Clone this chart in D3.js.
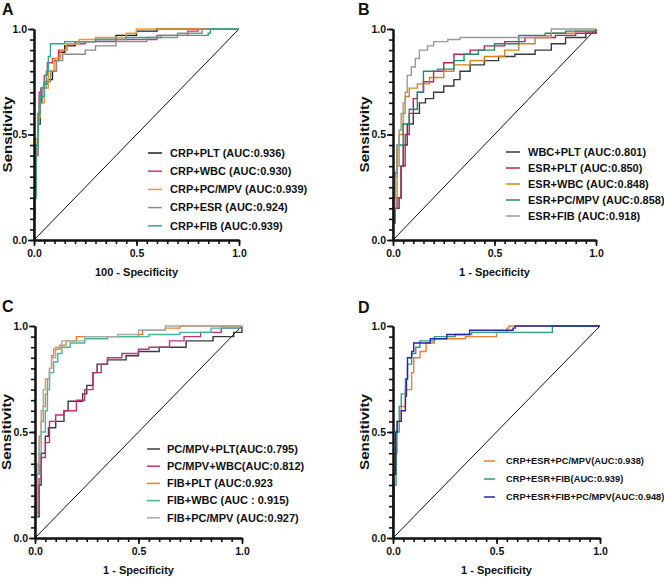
<!DOCTYPE html>
<html>
<head>
<meta charset="utf-8">
<script src="https://cdn.jsdelivr.net/npm/d3@7"></script>
<style>
  body { margin: 0; background: #fff; }
  svg text { font-family: Arial, "Liberation Sans", sans-serif; font-weight: bold; fill: #111; }
</style>
</head>
<body>
<div class="chart"></div>
<script>
// axis ticks
var majorTicks = [0, 0.5, 1];
var minorTicks = d3.range(0, 1.0001, 0.05);

// Panel A series (fpr, tpr)
var aLabels = ["CRP+PLT (AUC:0.936)", "CRP+WBC (AUC:0.930)", "CRP+PC/MPV (AUC:0.939)", "CRP+ESR (AUC:0.924)", "CRP+FIB (AUC:0.939)"];
var aCrpPlt = [[0,0],[0,0.12],[0.005,0.3],[0.01,0.45],[0.02,0.55],[0.03,0.65],[0.035,0.72],[0.05,0.74],[0.07,0.76],[0.09,0.8],[0.1,0.85],[0.12,0.89],[0.15,0.92],[0.2,0.94],[0.3,0.95],[0.4,0.97],[0.5,0.99],[0.6,1],[1,1]];
var aCrpWbc = [[0,0],[0,0.1],[0.005,0.25],[0.01,0.4],[0.02,0.6],[0.025,0.7],[0.035,0.72],[0.05,0.78],[0.065,0.84],[0.09,0.86],[0.12,0.9],[0.16,0.93],[0.25,0.94],[0.4,0.95],[0.6,0.97],[0.75,0.99],[0.8,1],[1,1]];
var aCrpPcMpv = [[0,0],[0,0.15],[0.005,0.3],[0.01,0.48],[0.02,0.58],[0.03,0.65],[0.05,0.72],[0.07,0.8],[0.1,0.86],[0.13,0.9],[0.16,0.93],[0.22,0.95],[0.3,0.96],[0.45,0.98],[0.5,1],[1,1]];
var aCrpEsr = [[0,0],[0,0.2],[0.01,0.4],[0.02,0.55],[0.025,0.65],[0.04,0.72],[0.06,0.75],[0.08,0.8],[0.11,0.85],[0.14,0.88],[0.25,0.9],[0.3,0.92],[0.4,0.94],[0.55,0.96],[0.7,0.98],[0.82,1],[1,1]];
var aCrpFib = [[0,0],[0,0.2],[0.01,0.45],[0.02,0.6],[0.03,0.68],[0.05,0.75],[0.06,0.8],[0.07,0.87],[0.08,0.93],[0.15,0.94],[0.3,0.95],[0.45,0.96],[0.62,0.97],[0.85,0.98],[0.86,1],[1,1]];

// Panel B
var bLabels = ["WBC+PLT (AUC:0.801)", "ESR+PLT (AUC:0.850)", "ESR+WBC (AUC:0.848)", "ESR+PC/MPV (AUC:0.858)", "ESR+FIB (AUC:0.918)"];
var bWbcPlt = [[0,0],[0,0.08],[0.01,0.15],[0.03,0.2],[0.04,0.35],[0.05,0.45],[0.07,0.55],[0.1,0.6],[0.13,0.65],[0.16,0.67],[0.2,0.7],[0.25,0.73],[0.3,0.76],[0.33,0.8],[0.38,0.83],[0.45,0.85],[0.52,0.87],[0.6,0.88],[0.7,0.9],[0.78,0.93],[0.85,0.96],[0.95,0.98],[1,1]];
var bEsrPlt = [[0,0],[0,0.15],[0.02,0.2],[0.04,0.35],[0.06,0.5],[0.08,0.6],[0.1,0.67],[0.12,0.7],[0.15,0.75],[0.2,0.8],[0.25,0.84],[0.3,0.88],[0.38,0.9],[0.45,0.92],[0.55,0.94],[0.65,0.96],[0.8,0.97],[0.9,0.98],[1,1]];
var bEsrWbc = [[0,0],[0,0.2],[0.02,0.35],[0.03,0.5],[0.05,0.6],[0.06,0.68],[0.08,0.72],[0.12,0.74],[0.18,0.77],[0.25,0.8],[0.3,0.83],[0.38,0.85],[0.45,0.87],[0.55,0.9],[0.62,0.93],[0.7,0.96],[0.78,0.98],[0.9,0.99],[1,1]];
var bEsrPcMpv = [[0,0],[0,0.2],[0.01,0.32],[0.02,0.45],[0.05,0.55],[0.08,0.62],[0.12,0.7],[0.15,0.8],[0.22,0.81],[0.3,0.85],[0.35,0.88],[0.42,0.9],[0.5,0.93],[0.62,0.97],[0.75,0.98],[0.85,0.99],[1,1]];
var bEsrFib = [[0,0],[0,0.15],[0.01,0.3],[0.02,0.45],[0.03,0.52],[0.04,0.6],[0.05,0.65],[0.06,0.7],[0.07,0.78],[0.09,0.82],[0.11,0.86],[0.13,0.9],[0.17,0.92],[0.2,0.94],[0.27,0.95],[0.33,0.96],[0.76,0.97],[0.78,1],[1,1]];

// Panel C
var cLabels = ["PC/MPV+PLT(AUC:0.795)", "PC/MPV+WBC(AUC:0.812)", "FIB+PLT (AUC:0.923", "FIB+WBC (AUC : 0.915)", "FIB+PC/MPV (AUC:0.927)"];
var cPcMpvPlt = [[0,0],[0,0.1],[0.02,0.25],[0.03,0.4],[0.05,0.48],[0.065,0.52],[0.1,0.55],[0.14,0.6],[0.16,0.645],[0.23,0.68],[0.25,0.72],[0.28,0.78],[0.3,0.82],[0.35,0.84],[0.44,0.86],[0.5,0.88],[0.6,0.9],[0.73,0.93],[0.86,0.95],[0.96,0.97],[1,1]];
var cPcMpvWbc = [[0,0],[0,0.12],[0.02,0.28],[0.03,0.38],[0.05,0.45],[0.07,0.55],[0.1,0.58],[0.14,0.6],[0.2,0.65],[0.24,0.7],[0.28,0.78],[0.32,0.82],[0.35,0.85],[0.42,0.87],[0.5,0.89],[0.55,0.9],[0.65,0.93],[0.72,0.95],[0.8,0.97],[0.9,0.99],[1,1]];
var cFibPlt = [[0,0],[0,0.15],[0.01,0.3],[0.02,0.48],[0.03,0.55],[0.04,0.62],[0.05,0.68],[0.06,0.75],[0.07,0.8],[0.08,0.86],[0.09,0.89],[0.12,0.91],[0.15,0.93],[0.2,0.95],[0.5,0.96],[0.52,0.98],[0.63,0.99],[0.7,1],[1,1]];
var cFibWbc = [[0,0],[0,0.1],[0.01,0.3],[0.02,0.4],[0.03,0.5],[0.05,0.6],[0.06,0.7],[0.07,0.78],[0.09,0.83],[0.11,0.87],[0.13,0.9],[0.17,0.92],[0.24,0.94],[0.35,0.95],[0.55,0.96],[0.7,0.97],[0.85,0.99],[1,1]];
var cFibPcMpv = [[0,0],[0,0.15],[0.01,0.35],[0.02,0.45],[0.03,0.6],[0.04,0.7],[0.05,0.75],[0.07,0.8],[0.08,0.85],[0.1,0.9],[0.13,0.93],[0.24,0.95],[0.4,0.96],[0.5,0.98],[0.63,1],[1,1]];

// Panel D
var dLabels = ["CRP+ESR+PC/MPV(AUC:0.938)", "CRP+ESR+FIB(AUC:0.939)", "CRP+ESR+FIB+PC/MPV(AUC:0.948)"];
var dCrpEsrPcMpv = [[0,0],[0,0.2],[0.005,0.4],[0.02,0.55],[0.04,0.62],[0.06,0.7],[0.09,0.78],[0.1,0.85],[0.13,0.88],[0.16,0.92],[0.2,0.94],[0.35,0.95],[0.5,0.97],[0.55,0.99],[0.56,1],[1,1]];
var dCrpEsrFib = [[0,0],[0,0.1],[0.005,0.25],[0.015,0.5],[0.03,0.62],[0.04,0.68],[0.06,0.75],[0.07,0.82],[0.09,0.87],[0.11,0.9],[0.13,0.93],[0.2,0.95],[0.3,0.96],[0.38,0.97],[0.76,0.97],[0.77,1],[1,1]];
var dCrpEsrFibPcMpv = [[0,0],[0,0.3],[0.013,0.5],[0.02,0.55],[0.04,0.6],[0.06,0.67],[0.065,0.75],[0.07,0.85],[0.09,0.88],[0.1,0.92],[0.18,0.94],[0.26,0.96],[0.37,0.98],[0.58,0.99],[0.59,1],[1,1]];

function init(){

  var w = 664;
  var h = 577;

  var svg = d3.select("div.chart")
              .append("svg")
              .attr("width", w)
              .attr("height", h);

  // layout of the four panels (plot box, legend spot, titles)
  var panels = [
    { letter: "A", lx: 2, ly: 15, left: 34, right: 239, top: 29, bottom: 240,
      xTitle: "100 - Specificity", xTitleY: 276, yTitleX: 2,
      legX: 148, legY: 153, legStep: 18.2, legLine: 14, legFont: 11, textGap: 8,
      labels: aLabels, series: [aCrpPlt, aCrpWbc, aCrpPcMpv, aCrpEsr, aCrpFib],
      colors: ["#1e1e1e", "#d4337f", "#f5962a", "#8c8c8c", "#2bab84"] },
    { letter: "B", lx: 358, ly: 15, left: 393, right: 596, top: 29, bottom: 240,
      xTitle: "1 - Specificity", xTitleY: 276, yTitleX: 359,
      legX: 506, legY: 152, legStep: 16, legLine: 14, legFont: 11, textGap: 8,
      labels: bLabels, series: [bWbcPlt, bEsrPlt, bEsrWbc, bEsrPcMpv, bEsrFib],
      colors: ["#3a3a3a", "#c01d5a", "#d2841a", "#1f8c6a", "#9a9a9a"] },
    { letter: "C", lx: 2, ly: 312, left: 35, right: 242, top: 326, bottom: 538,
      xTitle: "1 - Specificity", xTitleY: 574, yTitleX: 1,
      legX: 147, legY: 449, legStep: 17.2, legLine: 13, legFont: 11, textGap: 7,
      labels: cLabels, series: [cPcMpvPlt, cPcMpvWbc, cFibPlt, cFibWbc, cFibPcMpv],
      colors: ["#3a3a3a", "#c4307a", "#f07f22", "#45b59a", "#a8a8a8"] },
    { letter: "D", lx: 358, ly: 313, left: 393, right: 600, top: 326, bottom: 538,
      xTitle: "1 - Specificity", xTitleY: 574, yTitleX: 359,
      legX: 484, legY: 461, legStep: 18, legLine: 11, legFont: 9.3, textGap: 11,
      labels: dLabels, series: [dCrpEsrPcMpv, dCrpEsrFib, dCrpEsrFibPcMpv],
      colors: ["#f07e2f", "#2e9e80", "#2424b0"] }
  ];

  panels.forEach(function(p){

    var xScale = d3.scaleLinear().domain([0, 1]).range([p.left, p.right]);
    var yScale = d3.scaleLinear().domain([0, 1]).range([p.bottom, p.top]);

    var g = svg.append("g");

    // panel letter
    g.append("text")
      .attr("x", p.lx)
      .attr("y", p.ly)
      .style("font-size", "16px")
      .text(p.letter);

    // reference diagonal
    g.append("line")
      .attr("x1", xScale(0)).attr("y1", yScale(0))
      .attr("x2", xScale(1)).attr("y2", yScale(1))
      .attr("stroke", "#111")
      .attr("stroke-width", 1);

    // ROC curves
    var line = d3.line()
      .curve(d3.curveStepAfter)
      .x(function(d){ return xScale(d[0]); })
      .y(function(d){ return yScale(d[1]); });

    p.series.forEach(function(s, i){
      g.append("path")
        .datum(s)
        .attr("d", line)
        .attr("fill", "none")
        .attr("stroke", p.colors[i])
        .attr("stroke-width", 1.4);
    });

    // minor ticks
    g.append("g")
      .attr("transform", "translate(0," + p.bottom + ")")
      .call(d3.axisBottom(xScale).tickValues(minorTicks).tickSize(4).tickSizeOuter(0).tickFormat(""))
      .call(styleAxis);
    g.append("g")
      .attr("transform", "translate(" + p.left + ",0)")
      .call(d3.axisLeft(yScale).tickValues(minorTicks).tickSize(4).tickSizeOuter(0).tickFormat(""))
      .call(styleAxis);

    // major ticks with labels
    g.append("g")
      .attr("transform", "translate(0," + p.bottom + ")")
      .call(d3.axisBottom(xScale).tickValues(majorTicks).tickSize(6).tickSizeOuter(0).tickPadding(4).tickFormat(d3.format(".1f")))
      .call(styleAxis);
    g.append("g")
      .attr("transform", "translate(" + p.left + ",0)")
      .call(d3.axisLeft(yScale).tickValues(majorTicks).tickSize(6).tickSizeOuter(0).tickPadding(1).tickFormat(d3.format(".1f")))
      .call(styleAxis);

    // axis titles
    g.append("text")
      .attr("x", (p.left + p.right) / 2)
      .attr("y", p.xTitleY)
      .attr("text-anchor", "middle")
      .style("font-size", "11px")
      .text(p.xTitle);

    g.append("text")
      .attr("transform", "translate(" + p.yTitleX + "," + ((p.top + p.bottom) / 2) + ") rotate(-90)")
      .attr("text-anchor", "middle")
      .attr("dy", "0.8em")
      .attr("textLength", 76)
      .attr("lengthAdjust", "spacingAndGlyphs")
      .style("font-size", "12.5px")
      .text("Sensitivity");

    // legend
    var leg = g.selectAll("g.leg")
      .data(p.labels)
      .enter()
      .append("g")
      .attr("class", "leg")
      .attr("transform", function(d, i){ return "translate(" + p.legX + "," + (p.legY + i * p.legStep) + ")"; });

    leg.append("line")
      .attr("x1", 0).attr("x2", p.legLine)
      .attr("y1", 0).attr("y2", 0)
      .attr("stroke", function(d, i){ return p.colors[i]; })
      .attr("stroke-width", 1.5);

    leg.append("text")
      .attr("x", p.legLine + p.textGap)
      .attr("dy", "0.35em")
      .style("font-size", p.legFont + "px")
      .text(function(d){ return d; });
  });

  function styleAxis(sel){
    sel.select(".domain").attr("stroke", "#111").attr("stroke-width", 2);
    sel.selectAll(".tick line").attr("stroke", "#111").attr("stroke-width", 1.6);
    sel.selectAll(".tick text")
      .style("font-size", "10.5px")
      .style("font-family", "Arial, 'Liberation Sans', sans-serif")
      .style("font-weight", "bold")
      .attr("fill", "#111");
  }
}

window.onload = init;
</script>
</body>
</html>
